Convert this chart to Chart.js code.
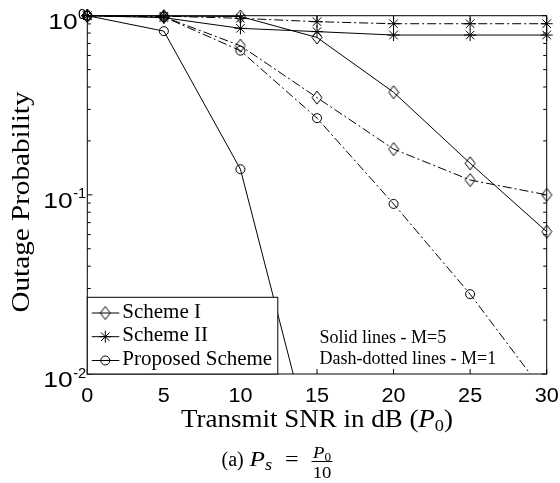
<!DOCTYPE html>
<html>
<head>
<meta charset="utf-8">
<script src="https://cdn.jsdelivr.net/npm/chart.js@4.4.0/dist/chart.umd.min.js"></script>
<style>
html, body { margin: 0; padding: 0; background: #fff; }
</style>
</head>
<body>
<canvas id="myChart" width="560" height="483"></canvas>
<script>
// values (outage probability vs transmit SNR)
var snr = [0, 5, 10, 15, 20, 25, 30];
var schemeOneM5 = [1, 0.995, 0.99, 0.756, 0.374, 0.150, 0.0623];
var schemeOneM1 = [1, 0.985, 0.68, 0.349, 0.180, 0.121, 0.100];
var schemeTwoM5 = [1, 0.975, 0.85, 0.815, 0.78, 0.78, 0.78];
var schemeTwoM1 = [1, 0.995, 0.967, 0.926, 0.902, 0.902, 0.902];
var proposedM5 = [1, 0.82, 0.139, 0.00306, null, null, null];
var proposedM1 = [1, 0.985, 0.638, 0.268, 0.089, 0.0279, 0.00755];

var xTicks = [0, 5, 10, 15, 20, 25, 30];
var yTicks = [0.01, 0.1, 1];
var yTickExp = ["-2", "-1", "0"];
var legendLabels = ["Scheme I", "Scheme II", "Proposed Scheme"];
var noteLines = ["Solid lines - M=5", "Dash-dotted lines - M=1"];

var serif = '"Liberation Serif", "Times New Roman", serif';
var sans = '"Liberation Sans", Arial, sans-serif';

function makeDiamond(w, h) {
  var c = document.createElement("canvas");
  c.width = w + 2;
  c.height = h + 2;
  var g = c.getContext("2d");
  g.strokeStyle = "#000";
  g.lineWidth = 1;
  g.beginPath();
  g.moveTo(c.width / 2, 1);
  g.lineTo(c.width - 1, c.height / 2);
  g.lineTo(c.width / 2, c.height - 1);
  g.lineTo(1, c.height / 2);
  g.closePath();
  g.stroke();
  return c;
}
var diamond = makeDiamond(10, 13);

function pts(vals) {
  return snr.map(function(x, i) { return { x: x, y: vals[i] }; });
}

function series(label, vals, style, radius, dashed) {
  return {
    label: label,
    data: pts(vals),
    borderColor: "#000",
    backgroundColor: "rgba(0,0,0,0)",
    borderWidth: 1,
    borderDash: dashed ? [9, 3, 2, 3] : [],
    pointStyle: style,
    pointRadius: radius,
    pointBorderColor: "#000",
    pointBackgroundColor: "rgba(0,0,0,0)",
    pointBorderWidth: 1,
    tension: 0,
    fill: false,
    clip: { left: 12, top: 12, right: 12, bottom: 0 }
  };
}

function drawMarker(g, kind, x, y) {
  g.save();
  g.strokeStyle = "#000";
  g.lineWidth = 1;
  g.setLineDash([]);
  if (kind === 0) {
    g.drawImage(diamond, x - diamond.width / 2, y - diamond.height / 2);
  } else if (kind === 1) {
    var r = 6, d = r * Math.SQRT1_2;
    g.beginPath();
    g.moveTo(x - r, y); g.lineTo(x + r, y);
    g.moveTo(x, y - r); g.lineTo(x, y + r);
    g.moveTo(x - d, y - d); g.lineTo(x + d, y + d);
    g.moveTo(x - d, y + d); g.lineTo(x + d, y - d);
    g.stroke();
  } else {
    g.beginPath();
    g.arc(x, y, 4.5, 0, Math.PI * 2);
    g.stroke();
  }
  g.restore();
}

// runs of text: [text, font, dy]; sx stretches horizontally
function drawRuns(g, runs, x, y, align, sx) {
  sx = sx || 1;
  var total = 0;
  runs.forEach(function(r) { g.font = r[1]; total += g.measureText(r[0]).width; });
  var w = total * sx;
  var start = align === "center" ? x - w / 2 : (align === "right" ? x - w : x);
  g.save();
  g.translate(start, y);
  g.scale(sx, 1);
  g.textAlign = "left";
  var cx = 0;
  runs.forEach(function(r) {
    g.font = r[1];
    g.fillText(r[0], cx, r[2] || 0);
    cx += g.measureText(r[0]).width;
  });
  g.restore();
  return w;
}

var decorPlugin = {
  id: "decor",
  afterDatasetsDraw: function(chart) {
    var g = chart.ctx;
    var a = chart.chartArea;
    var xs = chart.scales.x, ys = chart.scales.y;
    g.save();
    g.strokeStyle = "#000";
    g.fillStyle = "#000";
    g.lineWidth = 1;
    g.setLineDash([]);
    g.textBaseline = "alphabetic";

    // frame
    g.strokeRect(a.left, a.top, a.right - a.left, a.bottom - a.top);

    // x ticks, inward top and bottom
    g.beginPath();
    xTicks.forEach(function(v) {
      var px = xs.getPixelForValue(v);
      g.moveTo(px, a.bottom); g.lineTo(px, a.bottom - 5);
      g.moveTo(px, a.top); g.lineTo(px, a.top + 5);
    });
    // y ticks, major and minor, both sides
    yTicks.forEach(function(v, i) {
      var py = ys.getPixelForValue(v);
      g.moveTo(a.left, py); g.lineTo(a.left + 5, py);
      g.moveTo(a.right, py); g.lineTo(a.right - 5, py);
      if (i < yTicks.length - 1) {
        for (var m = 2; m <= 9; m++) {
          var pm = ys.getPixelForValue(v * m);
          g.moveTo(a.left, pm); g.lineTo(a.left + 3.5, pm);
          g.moveTo(a.right, pm); g.lineTo(a.right - 3.5, pm);
        }
      }
    });
    g.stroke();

    // x tick labels
    xTicks.forEach(function(v) {
      drawRuns(g, [[String(v), "20px " + sans, 0]], xs.getPixelForValue(v), 401.5, "center", 1.08);
    });

    // y tick labels 10^k
    yTicks.forEach(function(v, i) {
      var py = ys.getPixelForValue(v);
      var w1 = drawRuns(g, [[yTickExp[i], "14px " + sans, 0]], a.left - 1, py + 3.5, "right", 1.05);
      drawRuns(g, [["10", "22px " + sans, 0]], a.left - 1.5 - w1, py + 13, "right", 1.2);
    });

    // x axis title
    var cx = (a.left + a.right) / 2;
    var xt = [
      ["Transmit SNR in dB (", "25px " + serif, 0],
      ["P", "italic 25px " + serif, 0],
      ["0", "17px " + serif, 4],
      [")", "25px " + serif, 0]
    ];
    var xtw = 0;
    xt.forEach(function(r) { g.font = r[1]; xtw += g.measureText(r[0]).width; });
    drawRuns(g, xt, cx, 427, "center", 272 / xtw);

    // y axis title
    g.save();
    g.translate(29, 202);
    g.rotate(-Math.PI / 2);
    g.font = "26px " + serif;
    var ytw = g.measureText("Outage Probability").width;
    drawRuns(g, [["Outage Probability", "26px " + serif, 0]], 0, 0, "center", 221 / ytw);
    g.restore();

    // legend
    var lx = a.left, ly = 297.3, lw = 190.5, lh = a.bottom - ly;
    g.fillStyle = "#fff";
    g.fillRect(lx, ly, lw, lh);
    g.strokeRect(lx, ly, lw, lh);
    g.fillStyle = "#000";
    var rows = [313, 336.7, 360.5];
    legendLabels.forEach(function(t, i) {
      g.beginPath();
      g.moveTo(lx + 4.5, rows[i]); g.lineTo(lx + 32, rows[i]);
      g.stroke();
      drawMarker(g, i, lx + 18, rows[i]);
      g.font = "21px " + serif;
      g.textAlign = "left";
      g.fillText(t, lx + 35, rows[i] + 4.5);
    });

    // notes
    g.font = "18px " + serif;
    g.textAlign = "left";
    g.fillText(noteLines[0], 319.5, 343);
    g.fillText(noteLines[1], 319.5, 363.5);

    // caption (a) Ps = P0/10
    drawRuns(g, [["(a)", "20px " + serif, 0]], 221.5, 466, "left", 1);
    drawRuns(g, [["P", "italic 22px " + serif, 0], ["s", "italic 16px " + serif, 4]], 249.5, 466, "left", 1.15);
    drawRuns(g, [["=", "22px " + serif, 0]], 285, 466, "left", 1.1);
    var fx = 311.5, fw = 21;
    drawRuns(g, [["P", "italic 17px " + serif, 0], ["0", "12px " + serif, 3]], fx + fw / 2, 457.5, "center", 1.1);
    g.beginPath();
    g.moveTo(fx, 461.5); g.lineTo(fx + fw, 461.5);
    g.stroke();
    drawRuns(g, [["10", "17px " + serif, 0]], fx + fw / 2, 478, "center", 1.1);

    g.restore();
  }
};

var ctx = document.getElementById("myChart").getContext("2d");
var myChart = new Chart(ctx, {
  type: "line",
  data: {
    datasets: [
      series("Scheme I, M=5", schemeOneM5, diamond, 6, false),
      series("Scheme I, M=1", schemeOneM1, diamond, 6, true),
      series("Scheme II, M=5", schemeTwoM5, "star", 6, false),
      series("Scheme II, M=1", schemeTwoM1, "star", 6, true),
      series("Proposed Scheme, M=5", proposedM5, "circle", 4.5, false),
      series("Proposed Scheme, M=1", proposedM1, "circle", 4.5, true)
    ]
  },
  options: {
    responsive: false,
    animation: false,
    devicePixelRatio: 1,
    layout: { padding: { left: 87.3, top: 15.7, right: 13.3, bottom: 109 }, autoPadding: false },
    plugins: { legend: { display: false }, tooltip: { enabled: false } },
    scales: {
      x: {
        type: "linear", min: 0, max: 30,
        ticks: { display: false }, grid: { display: false }, border: { display: false },
        afterFit: function(s) { s.height = 0; }
      },
      y: {
        type: "logarithmic", min: 0.01, max: 1,
        ticks: { display: false }, grid: { display: false }, border: { display: false },
        afterFit: function(s) { s.width = 0; }
      }
    }
  },
  plugins: [decorPlugin]
});
</script>
</body>
</html>
